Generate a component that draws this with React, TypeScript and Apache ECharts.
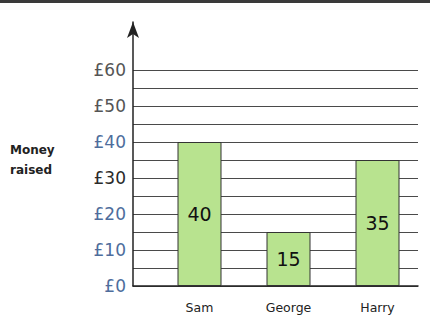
import React, { useEffect, useRef } from "react";
import * as echarts from "echarts";

const categories = ["Sam", "George", "Harry"];
const moneyRaised = [40, 15, 35];
const handLabels = ["40", "15", "35"];
const yMin = 0;
const yMax = 60;
const yStep = 10;
const blueTicks = [0, 10, 20, 40];
const greyTicks = [60, 50];

export default function App() {
  const ref = useRef<HTMLDivElement>(null);
  useEffect(() => {
    if (!ref.current) return;
    const chart = echarts.init(ref.current, null, { renderer: "svg" });
    const font = "DejaVu Sans";
    const lineCol = "#4a4a4a";
    chart.setOption({
      animation: false,
      backgroundColor: "#ffffff",
      textStyle: { fontFamily: font },
      grid: [
        { left: 133, right: 12, top: 70, bottom: 39 },
        { left: 155, width: 267, top: 70, bottom: 39 },
        { left: 133, width: 20, top: 22, bottom: 39 },
      ],
      xAxis: [
        {
          gridIndex: 0,
          type: "value",
          min: 0,
          max: 1,
          axisLine: { show: true, lineStyle: { color: "#222", width: 1.5 } },
          axisTick: { show: false },
          axisLabel: { show: false },
          splitLine: { show: false },
        },
        {
          gridIndex: 1,
          type: "category",
          data: categories,
          axisLine: { show: false },
          axisTick: { show: false },
          axisLabel: { color: "#222", fontSize: 12.5, margin: 15, fontFamily: font },
        },
        { gridIndex: 2, type: "value", show: false },
      ],
      yAxis: [
        {
          gridIndex: 0,
          type: "value",
          min: yMin,
          max: yMax,
          interval: yStep,
          axisLine: { show: false },
          axisTick: { show: false },
          minorTick: { show: false, splitNumber: 2 },
          minorSplitLine: { show: true, lineStyle: { color: lineCol, width: 1 } },
          splitLine: { show: true, lineStyle: { color: lineCol, width: 1 } },
          axisLabel: {
            margin: 7,
            fontSize: 17,
            fontFamily: font,
            formatter: (v: number) => {
              const k = blueTicks.includes(v) ? "b" : greyTicks.includes(v) ? "g" : "d";
              return `{${k}|£${v}}`;
            },
            rich: {
              b: { color: "#4e6d9c", fontSize: 17, fontFamily: font },
              g: { color: "#555555", fontSize: 17, fontFamily: font },
              d: { color: "#2a2a2a", fontSize: 17, fontFamily: font },
            },
          },
        },
        {
          gridIndex: 1,
          type: "value",
          min: yMin,
          max: yMax,
          show: false,
        },
        {
          gridIndex: 2,
          type: "value",
          min: 0,
          max: 1,
          axisLine: {
            show: true,
            symbol: ["none", "arrow"],
            symbolSize: [9, 16],
            lineStyle: { color: "#222", width: 1.5 },
          },
          axisTick: { show: false },
          axisLabel: { show: false },
          splitLine: { show: false },
        },
      ],
      series: [
        {
          type: "bar",
          xAxisIndex: 1,
          yAxisIndex: 1,
          data: moneyRaised,
          barWidth: 44,
          itemStyle: { color: "#b8e38f", borderColor: "#333", borderWidth: 1 },
          label: {
            show: true,
            position: "inside",
            color: "#111",
            fontSize: 19,
            fontFamily: font,
            formatter: (p: any) => handLabels[p.dataIndex],
          },
        },
      ],
      graphic: [
        {
          type: "rect",
          left: 0,
          top: 0,
          shape: { width: 430, height: 3 },
          style: { fill: "#3a3a3a" },
        },
        {
          type: "text",
          left: 10,
          top: 140,
          style: {
            text: "Money\nraised",
            font: `bold 12px ${font}`,
            fill: "#222",
            lineHeight: 20,
          },
        },
      ],
    });
    return () => chart.dispose();
  }, []);
  return (
    <div
      ref={ref}
      style={{ position: "fixed", left: 0, top: 0, width: 430, height: 325 }}
    />
  );
}
